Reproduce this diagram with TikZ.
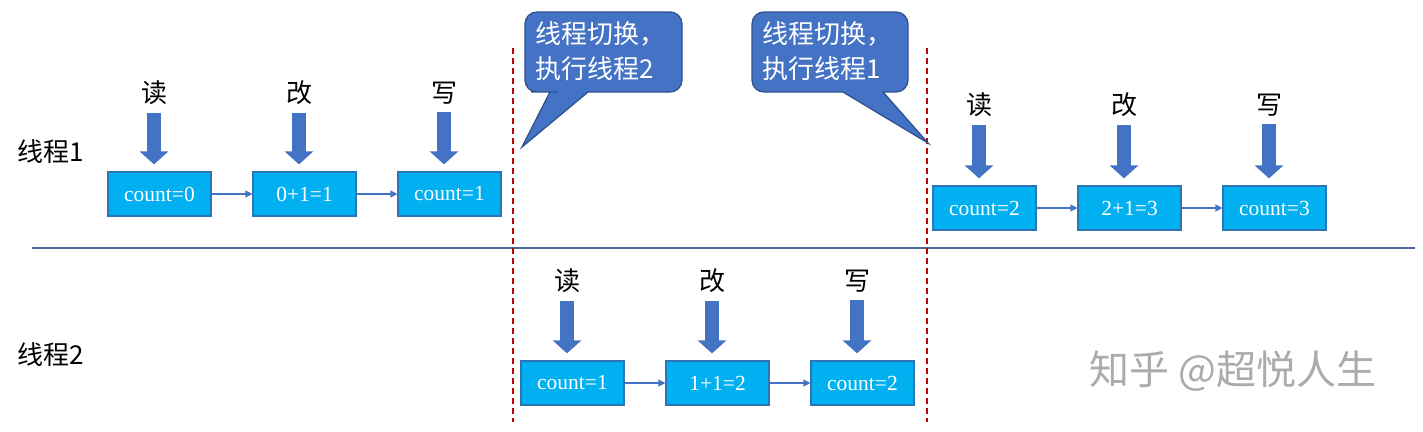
\documentclass[tikz,border=0pt]{standalone}
\usepackage{fontspec}
\setmainfont{Liberation Serif}
\newfontfamily\cjk{Noto Sans CJK SC}
\usetikzlibrary{arrows.meta}
\definecolor{boxblue}{HTML}{00B0F0}
\definecolor{boxedge}{HTML}{2E75B6}
\definecolor{arrblue}{HTML}{4472C4}
\definecolor{arredge}{HTML}{2F528F}
\definecolor{sepline}{HTML}{4A6A9C}
\definecolor{cutred}{HTML}{C00000}
\tikzset{
  valbox/.style={draw=boxedge,fill=boxblue,line width=1.2pt,minimum width=103pt,minimum height=44pt,inner sep=0pt,text=white,font=\fontsize{21.5}{24}\selectfont},
  oplabel/.style={inner sep=0pt,font=\cjk\fontsize{26}{30}\selectfont},
  rowlabel/.style={inner sep=0pt,anchor=west,font=\cjk\fontsize{26}{30}\selectfont},
  downarrow/.style={arrblue,line width=14pt,-{Triangle[width=28pt,length=13pt]}},
  link/.style={arrblue,line width=1.2pt,-{Triangle[width=7pt,length=7pt]}},
  cutline/.style={cutred,line width=1.5pt,dash pattern=on 6pt off 4pt},
  callout/.style={fill=arrblue,draw=arredge,line width=1.3pt},
  calltext/.style={inner sep=0pt,anchor=west,align=left,text=white,font=\cjk\fontsize{26}{35}\selectfont},
  wmtext/.style={inner sep=0pt,text=black!33,font=\cjk\fontsize{40}{42}\selectfont}
}
\begin{document}
\begin{tikzpicture}[x=1pt,y=-1pt]
\useasboundingbox (0,0) rectangle (1423,431);

\draw[sepline,line width=2pt] (32,248) -- (1415,248);
\draw[cutline] (513,48) -- (513,422);
\draw[cutline] (927,48) -- (927,422);

\node[rowlabel] (t1) at (17,152) {线程1};
\node[rowlabel] (t2) at (17,355) {线程2};

\node[valbox] (b11) at (159.5,194) {count=0};
\node[valbox] (b12) at (304.5,194) {0+1=1};
\node[valbox] (b13) at (449.5,194) {count=1};
\node[valbox] (b14) at (984.5,208) {count=2};
\node[valbox] (b15) at (1129.5,208) {2+1=3};
\node[valbox] (b16) at (1274.5,208) {count=3};
\node[valbox] (b21) at (572.5,383) {count=1};
\node[valbox] (b22) at (717.5,383) {1+1=2};
\node[valbox] (b23) at (862.5,383) {count=2};

\node[oplabel] (r11) at (154,93) {读};
\node[oplabel] (r12) at (299,93) {改};
\node[oplabel] (r13) at (444,93) {写};
\node[oplabel] (r14) at (979,105) {读};
\node[oplabel] (r15) at (1124,105) {改};
\node[oplabel] (r16) at (1269,105) {写};
\node[oplabel] (r21) at (567,281) {读};
\node[oplabel] (r22) at (712,281) {改};
\node[oplabel] (r23) at (857,281) {写};

\draw[downarrow] ([yshift=-8pt]r11.south) -- ([yshift=7pt]r11.south |- b11.north);
\draw[downarrow] ([yshift=-8pt]r12.south) -- ([yshift=7pt]r12.south |- b12.north);
\draw[downarrow] ([yshift=-8pt]r13.south) -- ([yshift=7pt]r13.south |- b13.north);
\draw[downarrow] ([yshift=-8pt]r14.south) -- ([yshift=7pt]r14.south |- b14.north);
\draw[downarrow] ([yshift=-8pt]r15.south) -- ([yshift=7pt]r15.south |- b15.north);
\draw[downarrow] ([yshift=-8pt]r16.south) -- ([yshift=7pt]r16.south |- b16.north);
\draw[downarrow] ([yshift=-8pt]r21.south) -- ([yshift=7pt]r21.south |- b21.north);
\draw[downarrow] ([yshift=-8pt]r22.south) -- ([yshift=7pt]r22.south |- b22.north);
\draw[downarrow] ([yshift=-8pt]r23.south) -- ([yshift=7pt]r23.south |- b23.north);

\draw[link] (b11) -- (b12);
\draw[link] (b12) -- (b13);
\draw[link] (b14) -- (b15);
\draw[link] (b15) -- (b16);
\draw[link] (b21) -- (b22);
\draw[link] (b22) -- (b23);

\draw[callout] (550,92) -- (522,147) -- (588,92) -- (620,92) [rounded corners=12pt] -- (682,92) -- (682,12) -- (525,12) -- (525,92) -- (543,92) -- (546,92) [sharp corners] -- cycle;
\draw[callout] (843,92) -- (928,143) -- (883,92) -- (890,92) [rounded corners=12pt] -- (908,92) -- (908,12) -- (752,12) -- (752,92) -- (815,92) -- (820,92) [sharp corners] -- cycle;
\node[calltext] (s1) at (535,51) {线程切换，\\执行线程2};
\node[calltext] (s2) at (762,51) {线程切换，\\执行线程1};

\node[wmtext] (wm) at (1233,371) {知乎 @超悦人生};

\end{tikzpicture}
\end{document}
